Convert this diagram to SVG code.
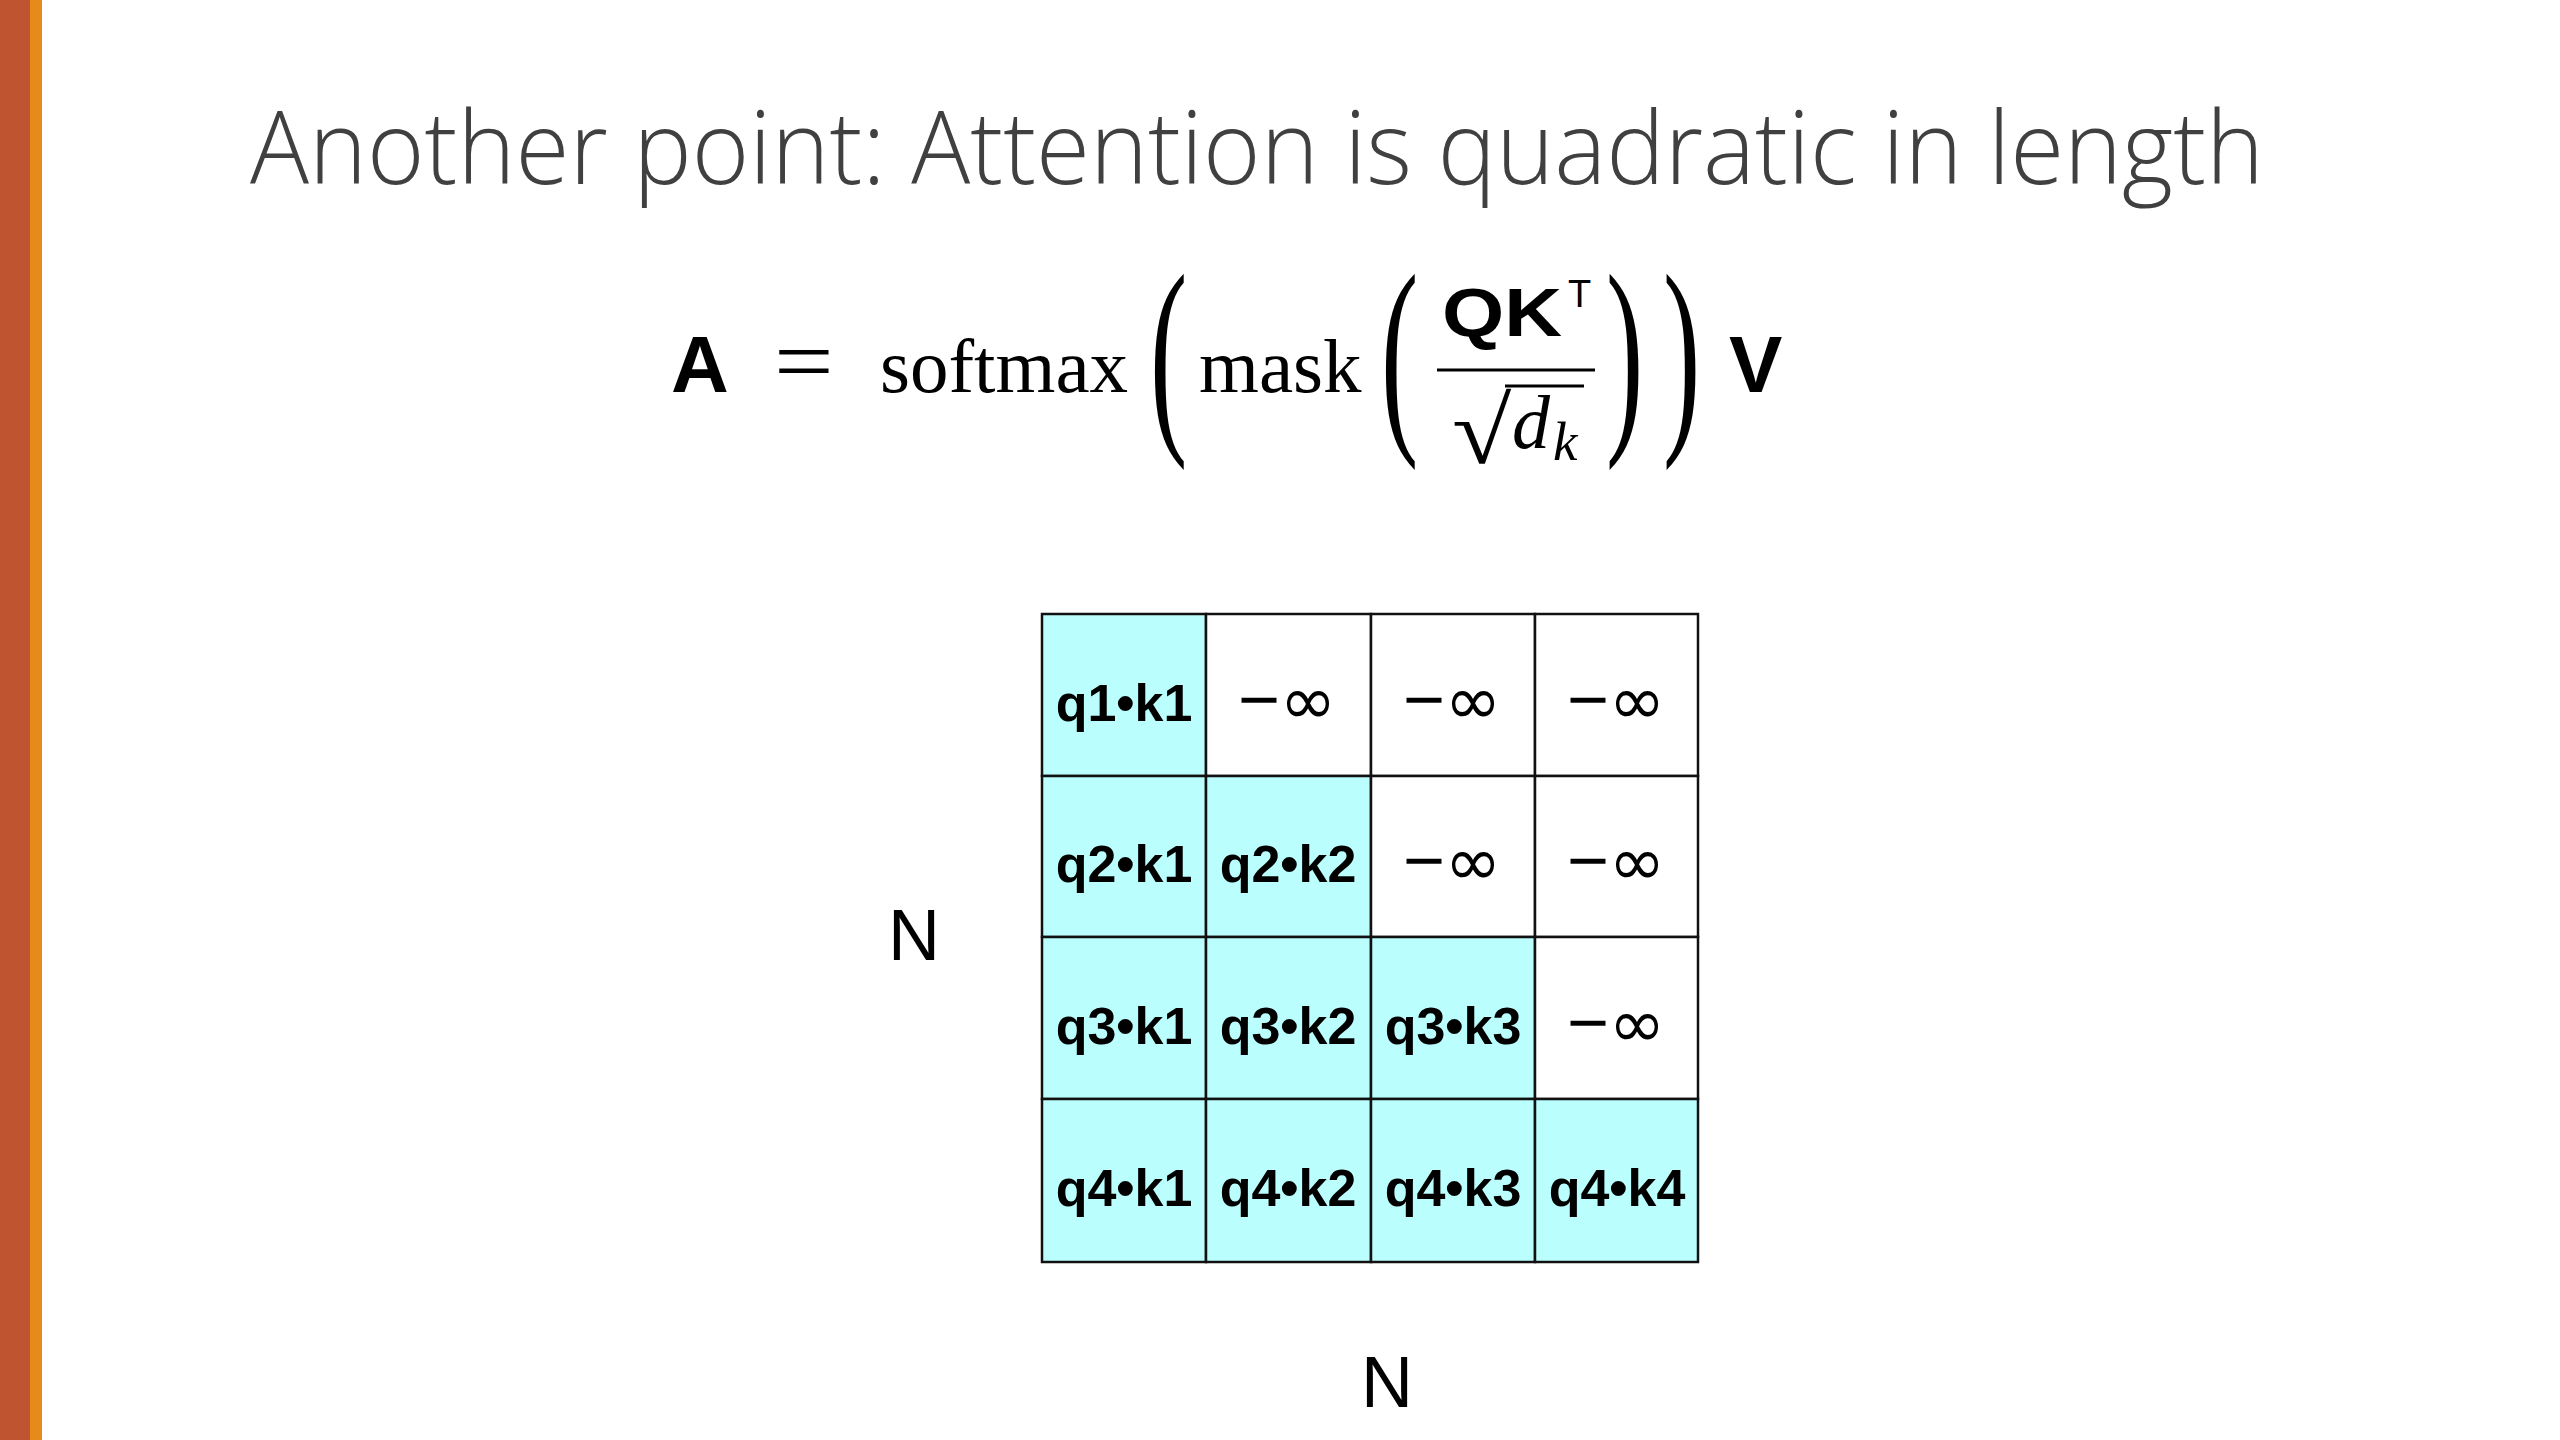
<svg xmlns="http://www.w3.org/2000/svg" width="2560" height="1440" viewBox="0 0 2560 1440">
<style>
.title{font-family:"Open Sans","Liberation Sans",sans-serif;font-weight:300;font-size:101px;fill:#404040}
.bold{font-family:"Liberation Sans",Arial,sans-serif;font-weight:bold;fill:#000}
.serif{font-family:"Liberation Serif","Times New Roman",serif;fill:#000}
.cell{stroke:#111;stroke-width:2.5}
.on{fill:#BBFEFE}
.off{fill:#FFFFFF}
.ct{font-family:"Liberation Sans",Arial,sans-serif;font-weight:bold;font-size:52px;text-anchor:middle;fill:#000}
.inf{font-family:"Liberation Sans",Arial,sans-serif;font-size:72px;text-anchor:middle;fill:#000}
.inf tspan{font-family:"DejaVu Sans",sans-serif;font-size:68px}
.lbl{font-family:"Liberation Sans",Arial,sans-serif;font-size:72px;fill:#000}
</style>
<rect width="2560" height="1440" fill="#FFFFFF"/>
<g id="sidebar">
<rect x="0" y="0" width="30" height="1440" fill="#BE5530"/>
<rect x="30" y="0" width="12" height="1440" fill="#E58A1B"/>
</g>
<g id="title">
<text class="title" x="250" y="184" textLength="2014" lengthAdjust="spacingAndGlyphs">Another point: Attention is quadratic in length</text>
</g>
<g id="formula">
<text class="bold" x="671" y="392" font-size="80">A</text>
<text class="serif" transform="translate(774,392) scale(1.15,1)" font-size="92">=</text>
<text class="serif" x="880" y="392" font-size="77">softmax</text>
<text class="serif" transform="translate(1150,424) scale(1.4,2.7)" font-size="80">(</text>
<text class="serif" x="1199" y="392" font-size="77">mask</text>
<text class="serif" transform="translate(1381,424) scale(1.4,2.7)" font-size="80">(</text>
<text class="bold" x="1442" y="336" font-size="68" textLength="120" lengthAdjust="spacingAndGlyphs">QK</text>
<text font-family="Liberation Sans, Arial, sans-serif" x="1568" y="307" font-size="38" fill="#000">T</text>
<line x1="1437" y1="370" x2="1595" y2="370" stroke="#000" stroke-width="3"/>
<text class="serif" transform="translate(1452,463) scale(1.15,1)" font-size="94">√</text>
<line x1="1505" y1="386" x2="1584" y2="386" stroke="#000" stroke-width="3"/>
<text class="serif" x="1512" y="448" font-size="76" font-style="italic">d</text>
<text class="serif" x="1553" y="460" font-size="55" font-style="italic">k</text>
<text class="serif" transform="translate(1606,424) scale(1.4,2.7)" font-size="80">)</text>
<text class="serif" transform="translate(1663,424) scale(1.4,2.7)" font-size="80">)</text>
<text class="bold" x="1729" y="392" font-size="80">V</text>
</g>
<g id="matrix">
<g id="r1">
<rect class="cell on" x="1042" y="614" width="164" height="162"/>
<rect class="cell off" x="1206" y="614" width="165" height="162"/>
<rect class="cell off" x="1371" y="614" width="164" height="162"/>
<rect class="cell off" x="1535" y="614" width="163" height="162"/>
<text class="ct" x="1124" y="721">q1•k1</text>
<text class="inf" x="1287" y="724">−<tspan>∞</tspan></text>
<text class="inf" x="1452" y="724">−<tspan>∞</tspan></text>
<text class="inf" x="1616" y="724">−<tspan>∞</tspan></text>
</g>
<g id="r2">
<rect class="cell on" x="1042" y="776" width="164" height="161"/>
<rect class="cell on" x="1206" y="776" width="165" height="161"/>
<rect class="cell off" x="1371" y="776" width="164" height="161"/>
<rect class="cell off" x="1535" y="776" width="163" height="161"/>
<text class="ct" x="1124" y="882">q2•k1</text>
<text class="ct" x="1288" y="882">q2•k2</text>
<text class="inf" x="1452" y="885">−<tspan>∞</tspan></text>
<text class="inf" x="1616" y="885">−<tspan>∞</tspan></text>
</g>
<g id="r3">
<rect class="cell on" x="1042" y="937" width="164" height="162"/>
<rect class="cell on" x="1206" y="937" width="165" height="162"/>
<rect class="cell on" x="1371" y="937" width="164" height="162"/>
<rect class="cell off" x="1535" y="937" width="163" height="162"/>
<text class="ct" x="1124" y="1044">q3•k1</text>
<text class="ct" x="1288" y="1044">q3•k2</text>
<text class="ct" x="1453" y="1044">q3•k3</text>
<text class="inf" x="1616" y="1047">−<tspan>∞</tspan></text>
</g>
<g id="r4">
<rect class="cell on" x="1042" y="1099" width="164" height="163"/>
<rect class="cell on" x="1206" y="1099" width="165" height="163"/>
<rect class="cell on" x="1371" y="1099" width="164" height="163"/>
<rect class="cell on" x="1535" y="1099" width="163" height="163"/>
<text class="ct" x="1124" y="1206">q4•k1</text>
<text class="ct" x="1288" y="1206">q4•k2</text>
<text class="ct" x="1453" y="1206">q4•k3</text>
<text class="ct" x="1617" y="1206">q4•k4</text>
</g>
</g>
<g id="labels">
<text class="lbl" x="888" y="960">N</text>
<text class="lbl" x="1361" y="1407">N</text>
</g>
</svg>
